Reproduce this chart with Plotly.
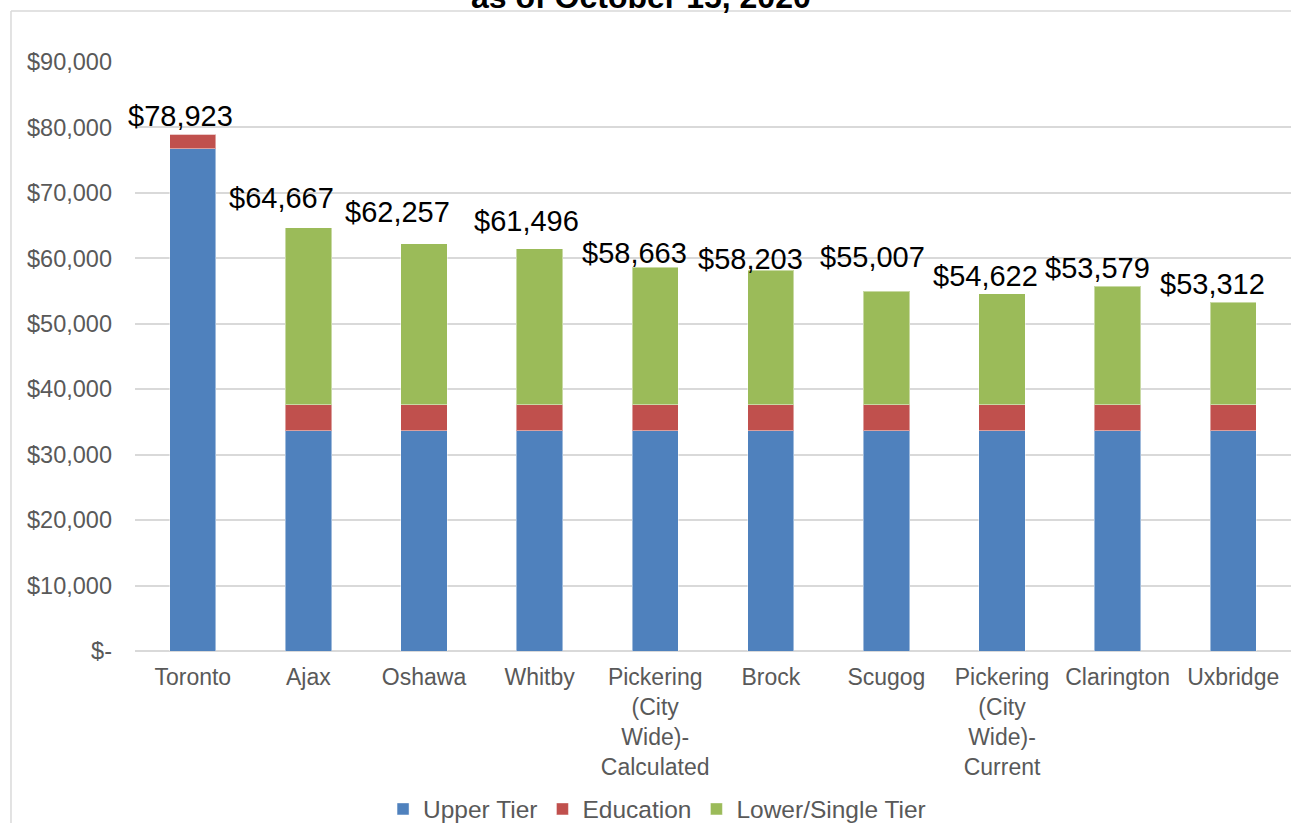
import plotly.graph_objects as go

categories = ["Toronto", "Ajax", "Oshawa", "Whitby",
              "Pickering<br>(City<br>Wide)-<br>Calculated", "Brock", "Scugog",
              "Pickering<br>(City<br>Wide)-<br>Current", "Clarington", "Uxbridge"]
upper_tier = [76723, 33660, 33660, 33660, 33660, 33660, 33660, 33660, 33660, 33660]
education = [2200, 3930, 3930, 3930, 3930, 3930, 3930, 3930, 3930, 3930]
lower_single = [0, 27077, 24667, 23906, 21073, 20613, 17417, 17032, 18180, 15722]
total_labels = [78923, 64667, 62257, 61496, 58663, 58203, 55007, 54622, 53579, 53312]
y_ticks = [0, 10000, 20000, 30000, 40000, 50000, 60000, 70000, 80000, 90000]
y_ticktext = ["$-", "$10,000", "$20,000", "$30,000", "$40,000", "$50,000",
              "$60,000", "$70,000", "$80,000", "$90,000"]

# label placement offsets (styling, pixels)
label_dx = [-12, -27, -27, -13, -21, -20, -14, -17, -20, -21]
label_dy = [18, 30, 32, 28, 14, 11, 34, 18, 18, 18]

FONT = "Liberation Sans, Arial, sans-serif"
GRAY = "#595959"
GRID = "#d9d9d9"

fig = go.Figure()
series = [("Upper Tier", upper_tier, "#4F81BD"),
          ("Education", education, "#C0504D"),
          ("Lower/Single Tier", lower_single, "#9BBB59")]
for name, vals, col in series:
    fig.add_trace(go.Bar(x=categories, y=vals, name=name, width=0.4,
                         marker=dict(color=col, line=dict(color="rgba(255,255,255,0.45)", width=1))))

totals = [u + e + l for u, e, l in zip(upper_tier, education, lower_single)]
for i, (c, t, lab) in enumerate(zip(categories, totals, total_labels)):
    fig.add_annotation(x=c, y=t, text="${:,}".format(lab), showarrow=False,
                       xanchor="center", yanchor="middle",
                       xshift=label_dx[i], yshift=label_dy[i],
                       font=dict(family=FONT, size=29, color="#000000"))

# title (partially cut off at the top in the source)
fig.add_annotation(xref="paper", yref="paper", x=0.4377, y=1.1104,
                   text="<b>as of October 15, 2020</b>", showarrow=False,
                   xanchor="center", yanchor="middle",
                   font=dict(family=FONT, size=32, color="#000000"))

# chart-area border
fig.add_shape(type="line", xref="paper", yref="paper", x0=-0.10727, x1=1.05,
              y0=1.0866, y1=1.0866, line=dict(color=GRID, width=1.5))
fig.add_shape(type="line", xref="paper", yref="paper", x0=-0.10727, x1=-0.10727,
              y0=1.0866, y1=-0.32, line=dict(color=GRID, width=1.5))

fig.update_layout(
    barmode="stack",
    width=1291, height=823,
    margin=dict(l=135, r=0, t=62, b=172, autoexpand=False),
    paper_bgcolor="white", plot_bgcolor="white",
    font=dict(family=FONT, size=23, color=GRAY),
    showlegend=True,
    legend=dict(orientation="h", x=0.4516, xanchor="center",
                yref="container", y=0.017, yanchor="middle",
                font=dict(family=FONT, size=24.5, color=GRAY), itemwidth=30,
                traceorder="normal"),
    xaxis=dict(range=[-0.5, 9.5], showgrid=False, showline=False, zeroline=False,
               tickfont=dict(family=FONT, size=23, color=GRAY), tickangle=0,
               ticklabelstandoff=10, automargin=False),
    yaxis=dict(range=[0, 90000], tickvals=y_ticks, ticktext=y_ticktext,
               showgrid=True, gridcolor=GRID, gridwidth=1.5,
               zeroline=True, zerolinecolor=GRID, zerolinewidth=1.5,
               showline=False, tickfont=dict(family=FONT, size=23.5, color=GRAY),
               ticklabelstandoff=22, automargin=False),
)

fig.write_html("out.html", config={"displayModeBar": False},
               post_script="document.body.style.margin='0';document.body.style.overflow='hidden';")
